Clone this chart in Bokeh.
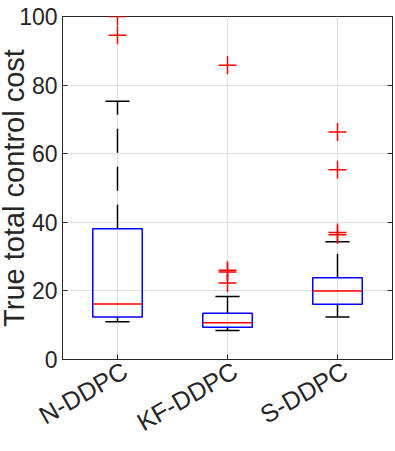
import numpy as np
from bokeh.plotting import figure
from bokeh.layouts import column
from bokeh.models import FixedTicker, LinearAxis, ColumnDataSource, Range1d
from bokeh.embed import file_html
from bokeh.resources import INLINE

# ---- data ----
categories = ["N-DDPC", "KF-DDPC", "S-DDPC"]
positions = [1, 2, 3]
q1 = [12.4, 9.4, 16.1]
median = [16.2, 10.7, 20.0]
q3 = [38.1, 13.5, 23.8]
lower_whisker = [11.0, 8.45, 12.4]
upper_whisker = [75.3, 18.4, 34.3]
outlier_group = [1, 1, 2, 2, 2, 2, 3, 3, 3, 3]
outlier_value = [100.0, 94.5, 85.8, 26.0, 25.5, 22.3, 66.3, 55.3, 37.0, 36.4]
y_ticks = [0, 20, 40, 60, 80, 100]

# ---- layout constants (pixels) ----
SHIFT = 5              # whole layout nudged left by this many px
FRAME_L, FRAME_R, FRAME_T, FRAME_B = 60, 392, 16, 363
W = 395 + SHIFT
H = 451
UNIT = (FRAME_R - FRAME_L) / 3.0
LABEL_SHIFT = 7.7 / UNIT   # rotated labels end just right of their tick

BOX_HALF = 0.225
CAP_HALF = 0.11
FONT = "Liberation Sans"
AX = "#262626"

pos = np.array(positions, dtype=float)
src = ColumnDataSource(dict(
    x=pos, left=pos - BOX_HALF, right=pos + BOX_HALF,
    cl=pos - CAP_HALF, cr=pos + CAP_HALF,
    q1=q1, q3=q3, med=median, lo=lower_whisker, hi=upper_whisker,
))
osrc = ColumnDataSource(dict(x=outlier_group, y=outlier_value))

p = figure(width=W, height=H, x_range=(0.5, 3.5), y_range=(0, 100),
           output_backend="svg", toolbar_location=None,
           min_border_left=FRAME_L + SHIFT, min_border_right=395 - FRAME_R,
           min_border_top=FRAME_T, min_border_bottom=H - FRAME_B)
p.background_fill_color = "white"
p.border_fill_color = "white"
p.outline_line_color = AX
p.outline_line_width = 1
p.extra_x_ranges = {"lab": Range1d(0.5 - LABEL_SHIFT, 3.5 - LABEL_SHIFT)}

# whiskers (dashed, starting at box edge)
p.segment(x0="x", y0="q3", x1="x", y1="hi", source=src, line_color="black",
          line_width=1.5, line_dash="24 14")
p.segment(x0="x", y0="q1", x1="x", y1="lo", source=src, line_color="black",
          line_width=1.5, line_dash="24 14")
# caps
p.segment(x0="cl", y0="hi", x1="cr", y1="hi", source=src, line_color="black", line_width=1.5)
p.segment(x0="cl", y0="lo", x1="cr", y1="lo", source=src, line_color="black", line_width=1.5)
# boxes
p.quad(left="left", right="right", bottom="q1", top="q3", source=src,
       fill_color=None, line_color="#0000ff", line_width=1.5)
# medians
p.segment(x0="left", y0="med", x1="right", y1="med", source=src,
          line_color="#ff0000", line_width=1.5)
# outliers
p.scatter(x="x", y="y", source=osrc, marker="cross", size=18,
          line_color="#ff0000", line_width=1.5)

# main axes
xa = p.xaxis[0]
xa.ticker = FixedTicker(ticks=positions)
xa.major_label_overrides = {pp: "" for pp in positions}
xa.major_label_text_font_size = "0px"
xa.major_label_standoff = 0
ya = p.yaxis[0]
ya.ticker = FixedTicker(ticks=y_ticks)
ya.major_label_text_font = FONT
ya.major_label_text_font_size = "23px"
ya.major_label_text_color = AX
ya.major_label_standoff = 5
ya.axis_label = "True total control cost"
ya.axis_label_text_font = FONT
ya.axis_label_text_font_size = "29px"
ya.axis_label_text_font_style = "normal"
ya.axis_label_text_color = AX
ya.axis_label_standoff = -14
for ax in (xa, ya):
    ax.axis_line_color = AX
    ax.major_tick_line_color = AX
    ax.major_tick_in = 5
    ax.major_tick_out = 0
    ax.minor_tick_line_color = None

# category labels (rotated), on an axis of their own
lab = LinearAxis(x_range_name="lab", ticker=FixedTicker(ticks=positions),
                 major_label_overrides={pp: c for pp, c in zip(positions, categories)},
                 major_label_orientation=np.pi / 6,
                 major_label_text_font=FONT, major_label_text_font_size="25px",
                 major_label_text_color=AX, major_label_standoff=3,
                 axis_line_color=None, major_tick_line_color=None,
                 minor_tick_line_color=None)
p.add_layout(lab, "below")

right = LinearAxis(ticker=FixedTicker(ticks=y_ticks),
                   major_label_overrides={t: "" for t in y_ticks},
                   major_label_text_font_size="0px",
                   major_label_standoff=0, major_tick_in=5, major_tick_out=0,
                   axis_line_color=AX, major_tick_line_color=AX,
                   minor_tick_line_color=None)
p.add_layout(right, "right")

p.xgrid.ticker = FixedTicker(ticks=positions)
p.ygrid.ticker = FixedTicker(ticks=y_ticks)
p.grid.grid_line_color = "#dfdfdf"
p.grid.grid_line_width = 1

layout = column(p, spacing=0, styles={"margin-left": f"-{SHIFT}px"})

open("out.html", "w").write(file_html(layout, INLINE))
